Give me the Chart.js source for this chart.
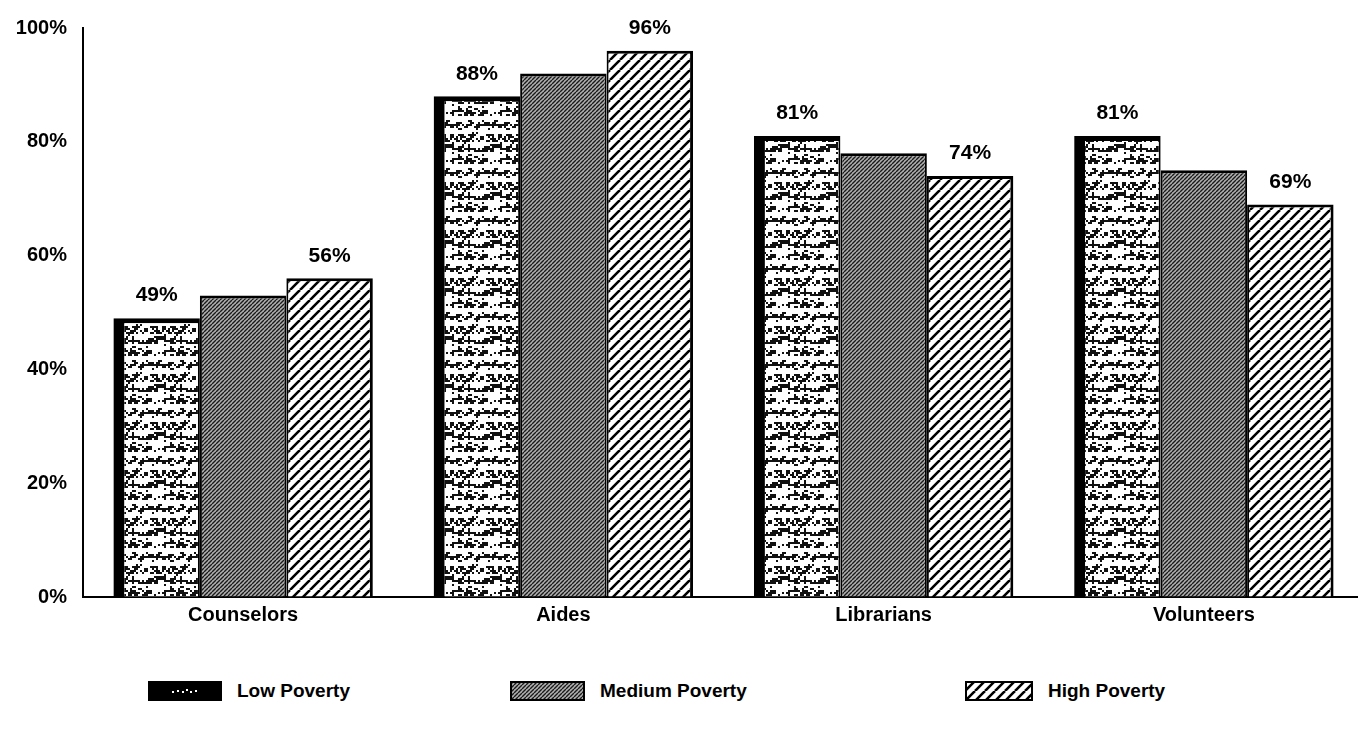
<!DOCTYPE html>
<html>
<head>
<meta charset="utf-8">
<script src="https://cdn.jsdelivr.net/npm/chart.js@4.4.1/dist/chart.umd.min.js"></script>
<style>
  html, body { margin: 0; padding: 0; background: #fff; overflow: hidden; }
  #wrap { position: relative; width: 1358px; height: 732px; overflow: hidden; }
  #chart { position: absolute; left: 0; top: 0; }
  .leg { position: absolute; top: 680px; display: flex; align-items: center;
         font: bold 19px "Liberation Sans", Arial, sans-serif; color: #000; }
  .leg canvas { margin-right: 15px; }
</style>
</head>
<body>
<div id="wrap">
  <canvas id="chart" width="1364" height="645"></canvas>
  <div class="leg" style="left:148px"><canvas id="sw0" width="74" height="20"></canvas>Low Poverty</div>
  <div class="leg" style="left:510px"><canvas id="sw1" width="75" height="20"></canvas>Medium Poverty</div>
  <div class="leg" style="left:965px"><canvas id="sw2" width="68" height="20"></canvas>High Poverty</div>
</div>
<script>
// --- data ---
const categories = ['Counselors', 'Aides', 'Librarians', 'Volunteers'];
const seriesNames = ['Low Poverty', 'Medium Poverty', 'High Poverty'];
const lowPoverty    = [49, 88, 81, 81];
const mediumPoverty = [53, 92, 78, 75];
const highPoverty   = [56, 96, 74, 69];
const yTicks = [0, 20, 40, 60, 80, 100];
const labelledSeries = [0, 2];   // only low & high bars carry a value label

const FONT = '"Liberation Sans", Arial, sans-serif';

// deterministic hash for the speckle texture
function hash(x, y) {
  const s = Math.sin(x * 12.9898 + y * 78.233) * 43758.5453;
  return s - Math.floor(s);
}

// --- fill patterns ---
function speckle() {
  const c = document.createElement('canvas');
  c.width = 48; c.height = 48;
  const g = c.getContext('2d');
  g.fillStyle = '#fff'; g.fillRect(0, 0, 48, 48);
  g.fillStyle = '#111';
  for (let y = 0; y < 48; y += 2) {
    for (let x = 0; x < 48; x += 2) {
      const v = hash(x, y) + 0.25 * Math.sin(y * 0.5);
      if (v > 0.72) g.fillRect(x, y, 2 + (hash(y, x) > 0.6 ? 2 : 0), 2);
    }
  }
  return g.createPattern(c, 'repeat');
}
function hatch(size, width, bg, fg) {
  const c = document.createElement('canvas');
  c.width = size; c.height = size;
  const g = c.getContext('2d');
  g.fillStyle = bg; g.fillRect(0, 0, size, size);
  g.strokeStyle = fg; g.lineWidth = width;
  g.beginPath();
  for (let k = -1; k <= 1; k++) {
    g.moveTo(k * size, size);
    g.lineTo(k * size + size, 0);
  }
  g.stroke();
  return g.createPattern(c, 'repeat');
}

const fills = [speckle(), hatch(4, 1.4, '#b0b0b0', '#1a1a1a'), hatch(10, 2.6, '#fff', '#000')];
const borders = [
  { left: 11, top: 5, right: 2, bottom: 0 },
  { left: 2, top: 3, right: 2, bottom: 0 },
  { left: 2, top: 3, right: 3, bottom: 0 }
];

// legend swatches
['sw0', 'sw1', 'sw2'].forEach((id, i) => {
  const cv = document.getElementById(id), g = cv.getContext('2d');
  g.fillStyle = '#000'; g.fillRect(0, 0, cv.width, cv.height);
  if (i === 0) {
    g.fillStyle = '#fff';
    [[24, 10], [29, 9], [34, 10], [38, 8], [42, 10], [47, 9]].forEach(p => g.fillRect(p[0], p[1], 2, 2));
  } else {
    g.fillStyle = fills[i]; g.fillRect(2, 2, cv.width - 4, cv.height - 4);
  }
});

// value labels above selected bars
const valueLabels = {
  id: 'valueLabels',
  afterDatasetsDraw(chart) {
    const ctx = chart.ctx;
    ctx.save();
    ctx.font = 'bold 21px ' + FONT;
    ctx.fillStyle = '#000';
    ctx.textAlign = 'center';
    ctx.textBaseline = 'bottom';
    labelledSeries.forEach(di => {
      chart.getDatasetMeta(di).data.forEach((bar, j) => {
        const v = chart.data.datasets[di].data[j];
        ctx.fillText(v + '%', bar.x, bar.y - 12);
      });
    });
    ctx.restore();
  }
};

new Chart(document.getElementById('chart'), {
  type: 'bar',
  data: {
    labels: categories,
    datasets: [lowPoverty, mediumPoverty, highPoverty].map((d, i) => ({
      label: seriesNames[i],
      data: d,
      backgroundColor: fills[i],
      borderColor: '#000',
      borderWidth: borders[i],
      borderSkipped: 'bottom',
      categoryPercentage: 0.81,
      barPercentage: 1.0
    }))
  },
  options: {
    responsive: false,
    animation: false,
    layout: { padding: { top: 27, right: 0, left: 0, bottom: 0 } },
    plugins: { legend: { display: false }, tooltip: { enabled: false } },
    scales: {
      x: {
        grid: { display: true, color: 'transparent', drawTicks: false },
        border: { color: '#000', width: 2 },
        ticks: { color: '#000', font: { family: FONT, size: 20, weight: 'bold' }, padding: 6 },
        afterFit: s => { s.height = 48; }
      },
      y: {
        min: 0, max: 100,
        afterBuildTicks: s => { s.ticks = yTicks.map(v => ({ value: v })); },
        grid: { display: true, color: 'transparent', drawTicks: false },
        border: { color: '#000', width: 2 },
        ticks: {
          color: '#000', padding: 16,
          font: { family: FONT, size: 20, weight: 'bold' },
          callback: v => v + '%'
        },
        afterFit: s => { s.width = 83; }
      }
    }
  },
  plugins: [valueLabels]
});
</script>
</body>
</html>
